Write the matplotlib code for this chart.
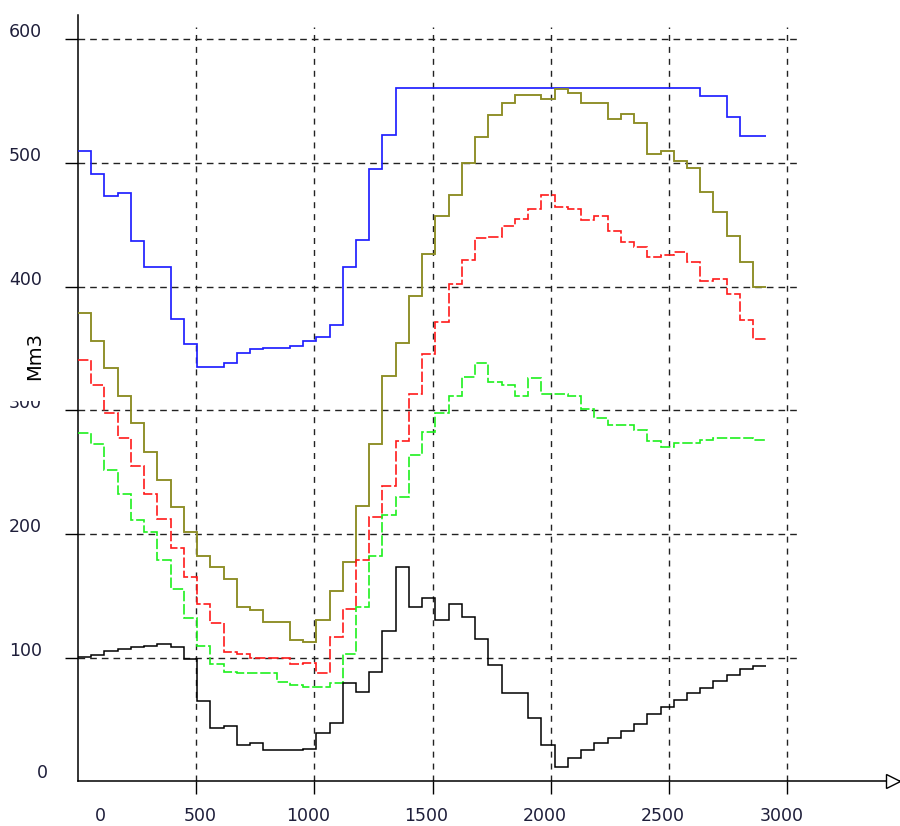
import numpy as np
import matplotlib.pyplot as plt
from matplotlib.patches import Rectangle
from matplotlib.transforms import ScaledTranslation

plt.rcParams['lines.scale_dashes'] = False

# weekly periods, 56 units each
week_len = 56
edges = np.arange(53) * week_len

blue = [510, 491, 473.6, 475.5, 437, 416, 416, 374, 354, 335,
        335, 338.5, 346.6, 349.4, 350.7, 350.7, 352, 356, 359, 369,
        416, 438, 495, 523, 561, 561, 561, 561, 561, 561,
        561, 561, 561, 561, 561, 561, 561, 561, 561, 561,
        561, 561, 561, 561, 561, 561, 561, 554, 554, 537.5,
        522, 522]
olive = [378.5, 356, 334, 312, 289.5, 266, 244, 222, 202, 182,
         173.6, 164, 141.3, 138.6, 129, 129, 114, 112.5, 130.5, 154,
         177.7, 223, 273, 328, 354.7, 392.4, 426.4, 457, 474, 500.3,
         521.3, 538.8, 548.3, 555.2, 555.2, 551.5, 559.6, 556.9, 548.8, 548.8,
         536, 540, 532, 507.3, 509.7, 501.6, 495.7, 476.8, 460.4, 441,
         419.7, 399.5]
red = [340.7, 320.5, 298, 277.4, 255.3, 232, 212.2, 188.5, 165.3, 143.4,
       128.3, 104.4, 102.8, 100, 100, 100, 94.7, 96, 87.4, 116.5,
       139, 179, 213.5, 238.8, 275.5, 313, 345.6, 371.2, 402, 421.6,
       439, 440.4, 449, 454.7, 462.8, 474, 464.7, 462.8, 454, 457,
       445.3, 436.4, 432.3, 423.7, 425.6, 428.3, 419.7, 404.6, 406.2, 393.8,
       373, 357.4]
green = [281.4, 272.8, 251.8, 232.1, 211.4, 201.9, 179.3, 155.5, 131.9, 109.5,
         94.7, 88.7, 87.4, 87.4, 87.4, 80.6, 77.9, 76.6, 76.6, 79.8,
         102.8, 141.3, 182.3, 215.4, 230.2, 263.9, 282.8, 298.1, 311.6, 326.7,
         338.6, 323.2, 320.5, 311.6, 325.9, 313, 313, 311.6, 300.8, 294.1,
         288.2, 288.2, 284.1, 275.5, 270.6, 273.3, 273.3, 276, 277.9, 277.9,
         277.9, 276]
black = [100.3, 102.2, 105.7, 107, 108.4, 109.7, 111.1, 108.4, 99, 65.3,
         42.9, 44.8, 29.4, 31.3, 25.1, 25.1, 25.1, 26.5, 38.9, 47.5,
         79.3, 72, 88.7, 121.9, 173.6, 141.3, 148, 130.5, 143.4, 133.2,
         114.9, 94.1, 71.2, 71.2, 51.5, 29.4, 11.4, 18.7, 25.4, 30.8,
         35.3, 40.7, 46.4, 54.5, 60.4, 65.8, 71.2, 75.3, 81.2, 86,
         90.6, 93.3]

xticks = [0, 500, 1000, 1500, 2000, 2500, 3000]
yticks = [0, 100, 200, 300, 400, 500, 600]
label_color = '#1e1e3a'

fig = plt.figure(figsize=(9, 8.26), dpi=100)
ax = fig.add_axes([78 / 900, 1 - 781.4 / 826, 822 / 900, 766.4 / 826])
ax.set_xlim(0, 3477)
ax.set_ylim(0, 619.7)

for s in ['top', 'right']:
    ax.spines[s].set_visible(False)
for s in ['left', 'bottom']:
    ax.spines[s].set_linewidth(1.1)
    ax.spines[s].set_color('black')

# dashed grid, drawn a little past the last ticks
ax.hlines(yticks[1:], 0, 3054, colors='#222222', lw=1.0,
          linestyles=[(0, (4.8, 3.6))], zorder=1)
ax.vlines(xticks[1:], 0, 610, colors='#222222', lw=1.0,
          linestyles=[(0, (4.3, 4.3))], zorder=1)

ax.set_xticks(xticks[1:])
ax.set_yticks(yticks[1:])
ax.tick_params(direction='out', length=9.5, width=1.0, color='black',
               labelbottom=False, labelleft=False)

# series
ax.stairs(blue, edges, baseline=None, color='#2020ff', lw=1.25, zorder=3)
ax.stairs(olive, edges, baseline=None, color='#8c8c24', lw=1.35, zorder=3)
ax.stairs(red, edges, baseline=None, color='#ff1a1a', lw=1.2,
          linestyle=(0, (7.5, 2)), zorder=3)
ax.stairs(green, edges, baseline=None, color='#1ef01e', lw=1.2,
          linestyle=(0, (7.5, 2)), zorder=3)
ax.stairs(black, edges, baseline=None, color='black', lw=1.1, zorder=3)

# tick labels
xlabel_dx = [22, 4, -6, -6, -6, -6, -6]
for v, dx in zip(xticks, xlabel_dx):
    tr = ax.get_xaxis_transform() + ScaledTranslation(dx / 100, -34.3 / 100, fig.dpi_scale_trans)
    ax.text(v, 0, str(v), transform=tr, ha='center', va='center',
            fontsize=12.5, color=label_color)

for v in yticks:
    dx, dy = (-30, 8.7) if v == 0 else (-36, 7)
    tr = ax.get_yaxis_transform() + ScaledTranslation(dx / 100, dy / 100, fig.dpi_scale_trans)
    ax.text(0, v, str(v), transform=tr, ha='right', va='center',
            fontsize=12.5, color=label_color)

# arrow head at the end of the x axis
ax.plot([0.992], [0], marker='>', ms=9.5, mfc='white', mec='black', mew=1.0,
        transform=ax.transAxes, clip_on=False, zorder=4)

# axis title on a white block
fig.add_artist(Rectangle((3 / 900, 1 - 401 / 826), 59 / 900, 79 / 826,
                         transform=fig.transFigure, facecolor='white',
                         edgecolor='none', zorder=1))
fig.text(35 / 900, 1 - 356 / 826, 'Mm3', rotation=90, ha='center', va='center',
         fontsize=14, color='black', zorder=2)

fig.savefig('out.png', dpi=100)
